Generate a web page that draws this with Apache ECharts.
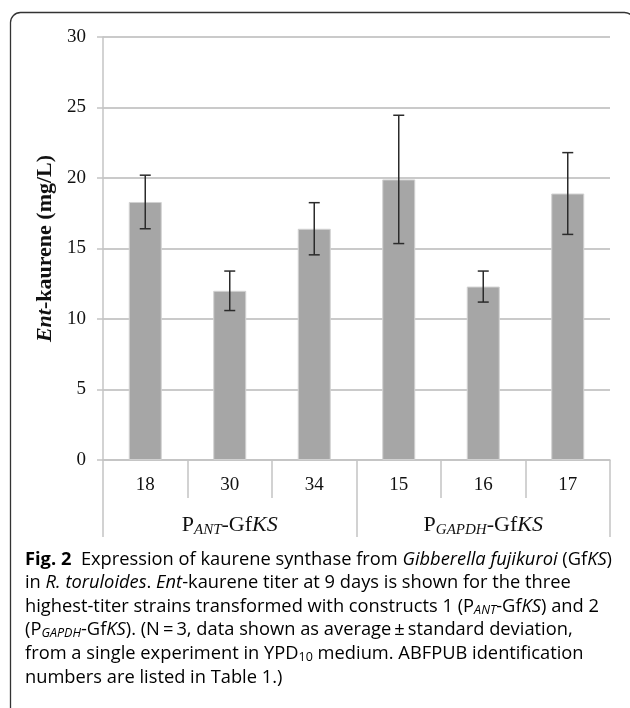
<!DOCTYPE html>
<html>
<head>
<meta charset="utf-8">
<script src="https://cdn.jsdelivr.net/npm/echarts@6/dist/echarts.min.js"></script>
<style>
html,body{margin:0;padding:0;background:#fff;}
#chart{width:630px;height:708px;}
</style>
</head>
<body>
<div id="chart"></div>
<script>
var strains = ['18', '30', '34', '15', '16', '17'];
var titer = [18.3, 12.0, 16.4, 19.9, 12.3, 18.9];
var stdev = [1.9, 1.4, 1.85, 4.55, 1.1, 2.9];
var groups = ['ANT', 'GAPDH'];

var serif = '"Liberation Serif", "Times New Roman", serif';
var sans = '"Open Sans", "Noto Sans", sans-serif';
var gray = '#c4c4c4';

// caption, line by line: [style, text]
var captionLines = [
	[['b', 'Fig. 2'], ['n', '  Expression of kaurene synthase from '], ['i', 'Gibberella fujikuroi'], ['n', ' (Gf'], ['i', 'KS'], ['n', ')']],
	[['n', 'in '], ['i', 'R. toruloides'], ['n', '. '], ['i', 'Ent'], ['n', '-kaurene titer at 9 days is shown for the three']],
	[['n', 'highest-titer strains transformed with constructs 1 (P'], ['si', 'ANT'], ['n', '-Gf'], ['i', 'KS'], ['n', ') and 2']],
	[['n', '(P'], ['si', 'GAPDH'], ['n', '-Gf'], ['i', 'KS'], ['n', '). (N\u2009=\u20093, data shown as average\u2009\u00b1\u2009standard deviation,']],
	[['n', 'from a single experiment in YPD'], ['s', '10'], ['n', ' medium. ABFPUB identification']],
	[['n', 'numbers are listed in Table '], ['blue', '1'], ['n', '.)']]
];
var captionBase = [566, 589, 613, 636, 660, 684];

var capFonts = {
	n: '17.5px ' + sans,
	b: 'bold 17.5px ' + sans,
	i: 'italic 17.5px ' + sans,
	si: 'italic 12px ' + sans,
	s: '12px ' + sans,
	blue: '17.5px ' + sans
};
var txt = '#1e1e1e';
var capRich = {
	n: {fontSize: 17.5, fontFamily: sans, color: txt, lineHeight: 20},
	b: {fontSize: 17.5, fontFamily: sans, fontWeight: 'bold', color: txt, lineHeight: 20},
	i: {fontSize: 17.5, fontFamily: sans, fontStyle: 'italic', color: txt, lineHeight: 20},
	si: {fontSize: 12, fontFamily: sans, fontStyle: 'italic', color: txt, lineHeight: 12, verticalAlign: 'bottom'},
	s: {fontSize: 12, fontFamily: sans, color: txt, lineHeight: 12, verticalAlign: 'bottom'},
	blue: {fontSize: 17.5, fontFamily: sans, color: '#3a5fcd', lineHeight: 20}
};

var ctx = document.createElement('canvas').getContext('2d');
function lineWidth(line) {
	var w = 0;
	for (var i = 0; i < line.length; i++) {
		ctx.font = capFonts[line[i][0]];
		w += ctx.measureText(line[i][1]).width;
	}
	return w;
}
var capScale = 587 / lineWidth(captionLines[0]);

var captionTexts = [];
for (var k = 0; k < captionLines.length; k++) {
	var str = captionLines[k].map(function(p){ return '{' + p[0] + '|' + p[1] + '}'; }).join('');
	captionTexts.push({
		type: 'text',
		x: 0,
		y: captionBase[k] - 6,
		style: {text: str, rich: capRich, verticalAlign: 'middle', align: 'left'}
	});
}

var errData = [];
for (var j = 0; j < titer.length; j++) {
	errData.push([j, titer[j] - stdev[j], titer[j] + stdev[j]]);
}

var chart = echarts.init(document.getElementById('chart'));
var option = {
	animation: false,
	grid: {left: 103, right: 20, top: 37, bottom: 248},
	xAxis: [{
		type: 'category',
		data: strains,
		axisLine: {lineStyle: {color: gray, width: 1.5}},
		axisTick: {show: true, interval: 0, length: 38, lineStyle: {color: gray, width: 1.5}},
		axisLabel: {color: '#111', fontFamily: serif, fontSize: 19, margin: 16}
	}, {
		type: 'category',
		data: groups,
		position: 'bottom',
		axisLine: {show: false},
		axisTick: {show: true, interval: 0, length: 77, lineStyle: {color: gray, width: 1.5}},
		axisLabel: {
			margin: 52,
			formatter: function(v){ return '{p|P}{sc|' + v + '}{p|-Gf}{pi|KS}'; },
			rich: {
				p: {fontFamily: serif, fontSize: 22, color: '#111', lineHeight: 26},
				pi: {fontFamily: serif, fontSize: 22, fontStyle: 'italic', color: '#111', lineHeight: 26},
				sc: {fontFamily: serif, fontSize: 15, fontStyle: 'italic', color: '#111', lineHeight: 20, verticalAlign: 'bottom'}
			}
		}
	}],
	yAxis: {
		type: 'value',
		min: 0,
		max: 30,
		interval: 5,
		name: '{bi|Ent}{b|-kaurene (mg/L)}',
		nameLocation: 'middle',
		nameRotate: 90,
		nameGap: 47,
		nameTextStyle: {
			rich: {
				bi: {fontFamily: serif, fontSize: 22, fontWeight: 'bold', fontStyle: 'italic', color: '#111'},
				b: {fontFamily: serif, fontSize: 22, fontWeight: 'bold', color: '#111'}
			}
		},
		axisLine: {show: true, lineStyle: {color: gray, width: 1.5}},
		axisTick: {show: true, length: 6, lineStyle: {color: gray, width: 1.5}},
		axisLabel: {color: '#111', fontFamily: serif, fontSize: 19, margin: 17},
		splitLine: {lineStyle: {color: '#cacaca', width: 2}}
	},
	series: [{
		type: 'bar',
		data: titer,
		barWidth: 33,
		itemStyle: {color: '#a6a6a6', borderColor: '#d2d2d2', borderWidth: 1}
	}, {
		type: 'custom',
		data: errData,
		z: 5,
		renderItem: function(params, api){
			var hi = api.coord([api.value(0), api.value(2)]);
			var lo = api.coord([api.value(0), api.value(1)]);
			var cap = 5.5;
			var st = {stroke: '#2b2b2b', lineWidth: 1.5};
			return {
				type: 'group',
				children: [
					{type: 'line', shape: {x1: hi[0], y1: hi[1], x2: lo[0], y2: lo[1]}, style: st},
					{type: 'line', shape: {x1: hi[0] - cap, y1: hi[1], x2: hi[0] + cap, y2: hi[1]}, style: st},
					{type: 'line', shape: {x1: lo[0] - cap, y1: lo[1], x2: lo[0] + cap, y2: lo[1]}, style: st}
				]
			};
		}
	}],
	graphic: [{
		type: 'rect',
		shape: {x: 10.5, y: 12.5, width: 624, height: 740, r: 10},
		style: {fill: 'none', stroke: '#333', lineWidth: 1.3}
	}, {
		type: 'group',
		x: 25,
		y: 0,
		scaleX: capScale,
		children: captionTexts
	}]
};
chart.setOption(option);
</script>
</body>
</html>
